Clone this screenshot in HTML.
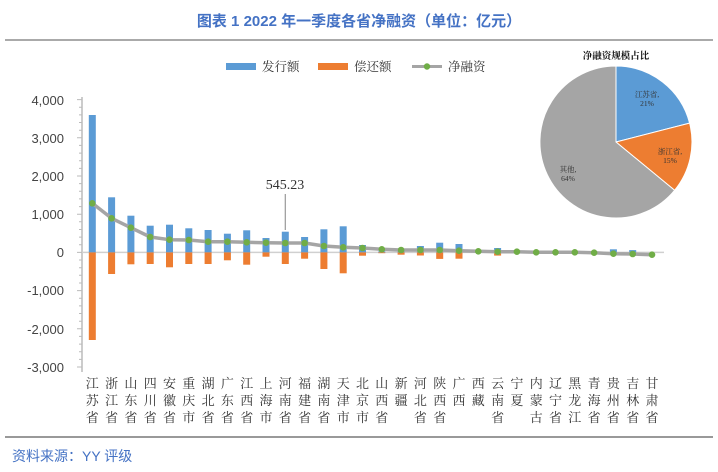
<!DOCTYPE html>
<html><head><meta charset="utf-8"><style>
html,body{margin:0;padding:0;background:#fff;width:718px;height:472px;overflow:hidden;}
svg{display:block;}
</style></head><body>
<svg width="718" height="472" viewBox="0 0 718 472" xmlns="http://www.w3.org/2000/svg">
<rect width="718" height="472" fill="#fff"/>
<text x="359" y="26" text-anchor="middle" font-family="Liberation Sans, Noto Sans CJK SC, sans-serif" font-size="15" font-weight="bold" fill="#4472C4">图表  1 2022 年一季度各省净融资（单位：亿元）</text>
<line x1="5" y1="40" x2="713" y2="40" stroke="#555" stroke-width="1"/>
<rect x="226" y="63" width="30" height="7" fill="#5B9BD5"/>
<text x="262" y="71" font-family="Liberation Serif, Noto Serif CJK SC, serif" font-size="12.5" fill="#333">发行额</text>
<rect x="318" y="63" width="30" height="7" fill="#ED7D31"/>
<text x="354" y="71" font-family="Liberation Serif, Noto Serif CJK SC, serif" font-size="12.5" fill="#333">偿还额</text>
<line x1="412" y1="66.5" x2="442" y2="66.5" stroke="#A5A5A5" stroke-width="3"/>
<circle cx="427" cy="66.5" r="3.2" fill="#70AD47"/>
<text x="448" y="71" font-family="Liberation Serif, Noto Serif CJK SC, serif" font-size="12.5" fill="#333">净融资</text>
<g font-family="Liberation Sans, sans-serif" font-size="13" fill="#444" text-anchor="end">
<text x="64" y="105">4,000</text>
<text x="64" y="143">3,000</text>
<text x="64" y="181">2,000</text>
<text x="64" y="219">1,000</text>
<text x="64" y="257">0</text>
<text x="64" y="295">-1,000</text>
<text x="64" y="334">-2,000</text>
<text x="64" y="372">-3,000</text>
</g>
<line x1="82" y1="97" x2="82" y2="372" stroke="#bbb" stroke-width="1.5"/>
<g stroke="#bbb" stroke-width="1">
<path d="M77 99.6H82M77 137.8H82M77 176H82M77 214.2H82M77 252.4H82M77 290.6H82M77 328.8H82M77 367H82"/>
<path d="M79 107.2H82M79 114.9H82M79 122.5H82M79 130.2H82M79 145.4H82M79 153.1H82M79 160.7H82M79 168.4H82M79 183.6H82M79 191.3H82M79 198.9H82M79 206.6H82M79 221.8H82M79 229.5H82M79 237.1H82M79 244.8H82M79 260H82M79 267.7H82M79 275.3H82M79 283H82M79 298.2H82M79 305.9H82M79 313.5H82M79 321.2H82M79 336.4H82M79 344.1H82M79 351.7H82M79 359.4H82"/>
</g>
<line x1="82" y1="252.4" x2="664" y2="252.4" stroke="#d0d0d0" stroke-width="1.5"/>
<g fill="#5B9BD5">
<rect x="88.8" y="115" width="7" height="137.4"/>
<rect x="108.1" y="197.3" width="7" height="55.1"/>
<rect x="127.4" y="215.7" width="7" height="36.7"/>
<rect x="146.7" y="225.7" width="7" height="26.7"/>
<rect x="166" y="224.7" width="7" height="27.7"/>
<rect x="185.3" y="228.3" width="7" height="24.1"/>
<rect x="204.6" y="230" width="7" height="22.4"/>
<rect x="223.9" y="233.7" width="7" height="18.7"/>
<rect x="243.2" y="230.3" width="7" height="22.1"/>
<rect x="262.5" y="238" width="7" height="14.4"/>
<rect x="281.8" y="231.7" width="7" height="20.7"/>
<rect x="301.1" y="237" width="7" height="15.4"/>
<rect x="320.4" y="229.3" width="7" height="23.1"/>
<rect x="339.7" y="226.3" width="7" height="26.1"/>
<rect x="359" y="245" width="7" height="7.4"/>
<rect x="378.3" y="251.3" width="7" height="1.1"/>
<rect x="397.6" y="249.3" width="7" height="3.1"/>
<rect x="416.9" y="246" width="7" height="6.4"/>
<rect x="436.2" y="242.7" width="7" height="9.7"/>
<rect x="455.5" y="244" width="7" height="8.4"/>
<rect x="494.1" y="248" width="7" height="4.4"/>
<rect x="609.9" y="249.3" width="7" height="3.1"/>
<rect x="629.2" y="250.1" width="7" height="2.3"/>
</g>
<g fill="#ED7D31">
<rect x="88.8" y="252.4" width="7" height="87.6"/>
<rect x="108.1" y="252.4" width="7" height="21.6"/>
<rect x="127.4" y="252.4" width="7" height="11.9"/>
<rect x="146.7" y="252.4" width="7" height="11.6"/>
<rect x="166" y="252.4" width="7" height="14.9"/>
<rect x="185.3" y="252.4" width="7" height="11.6"/>
<rect x="204.6" y="252.4" width="7" height="11.6"/>
<rect x="223.9" y="252.4" width="7" height="7.9"/>
<rect x="243.2" y="252.4" width="7" height="12.3"/>
<rect x="262.5" y="252.4" width="7" height="4.3"/>
<rect x="281.8" y="252.4" width="7" height="11.6"/>
<rect x="301.1" y="252.4" width="7" height="6.3"/>
<rect x="320.4" y="252.4" width="7" height="16.6"/>
<rect x="339.7" y="252.4" width="7" height="20.9"/>
<rect x="359" y="252.4" width="7" height="3.3"/>
<rect x="378.3" y="252.4" width="7" height="0.8"/>
<rect x="397.6" y="252.4" width="7" height="2.3"/>
<rect x="416.9" y="252.4" width="7" height="3.1"/>
<rect x="436.2" y="252.4" width="7" height="6.5"/>
<rect x="455.5" y="252.4" width="7" height="6.3"/>
<rect x="494.1" y="252.4" width="7" height="3.2"/>
<rect x="609.9" y="252.4" width="7" height="2.3"/>
<rect x="629.2" y="252.4" width="7" height="0.8"/>
</g>
<polyline fill="none" stroke="#A5A5A5" stroke-width="3.5" stroke-linejoin="round" points="92.3,203.3 111.6,218.3 130.9,227.7 150.2,237 169.5,239.7 188.8,240 208.1,241.7 227.4,241.7 246.7,242.3 266,242.7 285.3,243 304.6,243 323.9,246 343.2,247.3 362.5,248 381.8,249.3 401.1,250 420.4,250 439.7,250 459,250.7 478.3,251.3 497.6,251.7 516.9,251.7 536.2,252.3 555.5,252.3 574.8,252.3 594.1,252.7 613.4,253.7 632.7,254 652,254.7"/>
<g fill="#70AD47">
<circle cx="92.3" cy="203.3" r="3.3"/><circle cx="111.6" cy="218.3" r="3.3"/><circle cx="130.9" cy="227.7" r="3.3"/><circle cx="150.2" cy="237" r="3.3"/><circle cx="169.5" cy="239.7" r="3.3"/><circle cx="188.8" cy="240" r="3.3"/><circle cx="208.1" cy="241.7" r="3.3"/><circle cx="227.4" cy="241.7" r="3.3"/><circle cx="246.7" cy="242.3" r="3.3"/><circle cx="266" cy="242.7" r="3.3"/><circle cx="285.3" cy="243" r="3.3"/><circle cx="304.6" cy="243" r="3.3"/><circle cx="323.9" cy="246" r="3.3"/><circle cx="343.2" cy="247.3" r="3.3"/><circle cx="362.5" cy="248" r="3.3"/><circle cx="381.8" cy="249.3" r="3.3"/><circle cx="401.1" cy="250" r="3.3"/><circle cx="420.4" cy="250" r="3.3"/><circle cx="439.7" cy="250" r="3.3"/><circle cx="459" cy="250.7" r="3.3"/><circle cx="478.3" cy="251.3" r="3.3"/><circle cx="497.6" cy="251.7" r="3.3"/><circle cx="516.9" cy="251.7" r="3.3"/><circle cx="536.2" cy="252.3" r="3.3"/><circle cx="555.5" cy="252.3" r="3.3"/><circle cx="574.8" cy="252.3" r="3.3"/><circle cx="594.1" cy="252.7" r="3.3"/><circle cx="613.4" cy="253.7" r="3.3"/><circle cx="632.7" cy="254" r="3.3"/><circle cx="652" cy="254.7" r="3.3"/>
</g>
<line x1="285.3" y1="194" x2="285.3" y2="230" stroke="#999" stroke-width="1.2"/>
<text x="285" y="189" text-anchor="middle" font-family="Liberation Serif, serif" font-size="14" fill="#333">545.23</text>
<g font-family="Liberation Serif, Noto Serif CJK SC, serif" font-size="13" fill="#333" text-anchor="middle">
<text x="92.3" y="388">江</text><text x="92.3" y="405">苏</text><text x="92.3" y="422">省</text>
<text x="111.6" y="388">浙</text><text x="111.6" y="405">江</text><text x="111.6" y="422">省</text>
<text x="130.9" y="388">山</text><text x="130.9" y="405">东</text><text x="130.9" y="422">省</text>
<text x="150.2" y="388">四</text><text x="150.2" y="405">川</text><text x="150.2" y="422">省</text>
<text x="169.5" y="388">安</text><text x="169.5" y="405">徽</text><text x="169.5" y="422">省</text>
<text x="188.8" y="388">重</text><text x="188.8" y="405">庆</text><text x="188.8" y="422">市</text>
<text x="208.1" y="388">湖</text><text x="208.1" y="405">北</text><text x="208.1" y="422">省</text>
<text x="227.4" y="388">广</text><text x="227.4" y="405">东</text><text x="227.4" y="422">省</text>
<text x="246.7" y="388">江</text><text x="246.7" y="405">西</text><text x="246.7" y="422">省</text>
<text x="266" y="388">上</text><text x="266" y="405">海</text><text x="266" y="422">市</text>
<text x="285.3" y="388">河</text><text x="285.3" y="405">南</text><text x="285.3" y="422">省</text>
<text x="304.6" y="388">福</text><text x="304.6" y="405">建</text><text x="304.6" y="422">省</text>
<text x="323.9" y="388">湖</text><text x="323.9" y="405">南</text><text x="323.9" y="422">省</text>
<text x="343.2" y="388">天</text><text x="343.2" y="405">津</text><text x="343.2" y="422">市</text>
<text x="362.5" y="388">北</text><text x="362.5" y="405">京</text><text x="362.5" y="422">市</text>
<text x="381.8" y="388">山</text><text x="381.8" y="405">西</text><text x="381.8" y="422">省</text>
<text x="401.1" y="388">新</text><text x="401.1" y="405">疆</text>
<text x="420.4" y="388">河</text><text x="420.4" y="405">北</text><text x="420.4" y="422">省</text>
<text x="439.7" y="388">陕</text><text x="439.7" y="405">西</text><text x="439.7" y="422">省</text>
<text x="459" y="388">广</text><text x="459" y="405">西</text>
<text x="478.3" y="388">西</text><text x="478.3" y="405">藏</text>
<text x="497.6" y="388">云</text><text x="497.6" y="405">南</text><text x="497.6" y="422">省</text>
<text x="516.9" y="388">宁</text><text x="516.9" y="405">夏</text>
<text x="536.2" y="388">内</text><text x="536.2" y="405">蒙</text><text x="536.2" y="422">古</text>
<text x="555.5" y="388">辽</text><text x="555.5" y="405">宁</text><text x="555.5" y="422">省</text>
<text x="574.8" y="388">黑</text><text x="574.8" y="405">龙</text><text x="574.8" y="422">江</text>
<text x="594.1" y="388">青</text><text x="594.1" y="405">海</text><text x="594.1" y="422">省</text>
<text x="613.4" y="388">贵</text><text x="613.4" y="405">州</text><text x="613.4" y="422">省</text>
<text x="632.7" y="388">吉</text><text x="632.7" y="405">林</text><text x="632.7" y="422">省</text>
<text x="652" y="388">甘</text><text x="652" y="405">肃</text><text x="652" y="422">省</text>
</g>
<text x="616" y="59" text-anchor="middle" font-family="Liberation Serif, Noto Serif CJK SC, serif" font-size="9.5" font-weight="bold" fill="#111">净融资规模占比</text>
<g stroke="#fff" stroke-width="1">
<path d="M616 142 L616 66 A76 76 0 0 1 689.6 123.1 Z" fill="#5B9BD5"/>
<path d="M616 142 L689.6 123.1 A76 76 0 0 1 674.6 190.3 Z" fill="#ED7D31"/>
<path d="M616 142 L674.6 190.3 A76 76 0 1 1 616 66 Z" fill="#A5A5A5"/>
</g>
<g font-family="Liberation Serif, Noto Serif CJK SC, serif" font-size="7.5" fill="#333" text-anchor="middle">
<text x="647" y="97">江苏省,</text><text x="647" y="106">21%</text>
<text x="670" y="154">浙江省,</text><text x="670" y="163">15%</text>
<text x="568" y="172">其他,</text><text x="568" y="181">64%</text>
</g>
<line x1="5" y1="437" x2="713" y2="437" stroke="#333" stroke-width="1"/>
<text x="12" y="461" font-family="Liberation Sans, Noto Sans CJK SC, sans-serif" font-size="14" fill="#4472C4">资料来源：YY 评级</text>
</svg>
</body></html>
